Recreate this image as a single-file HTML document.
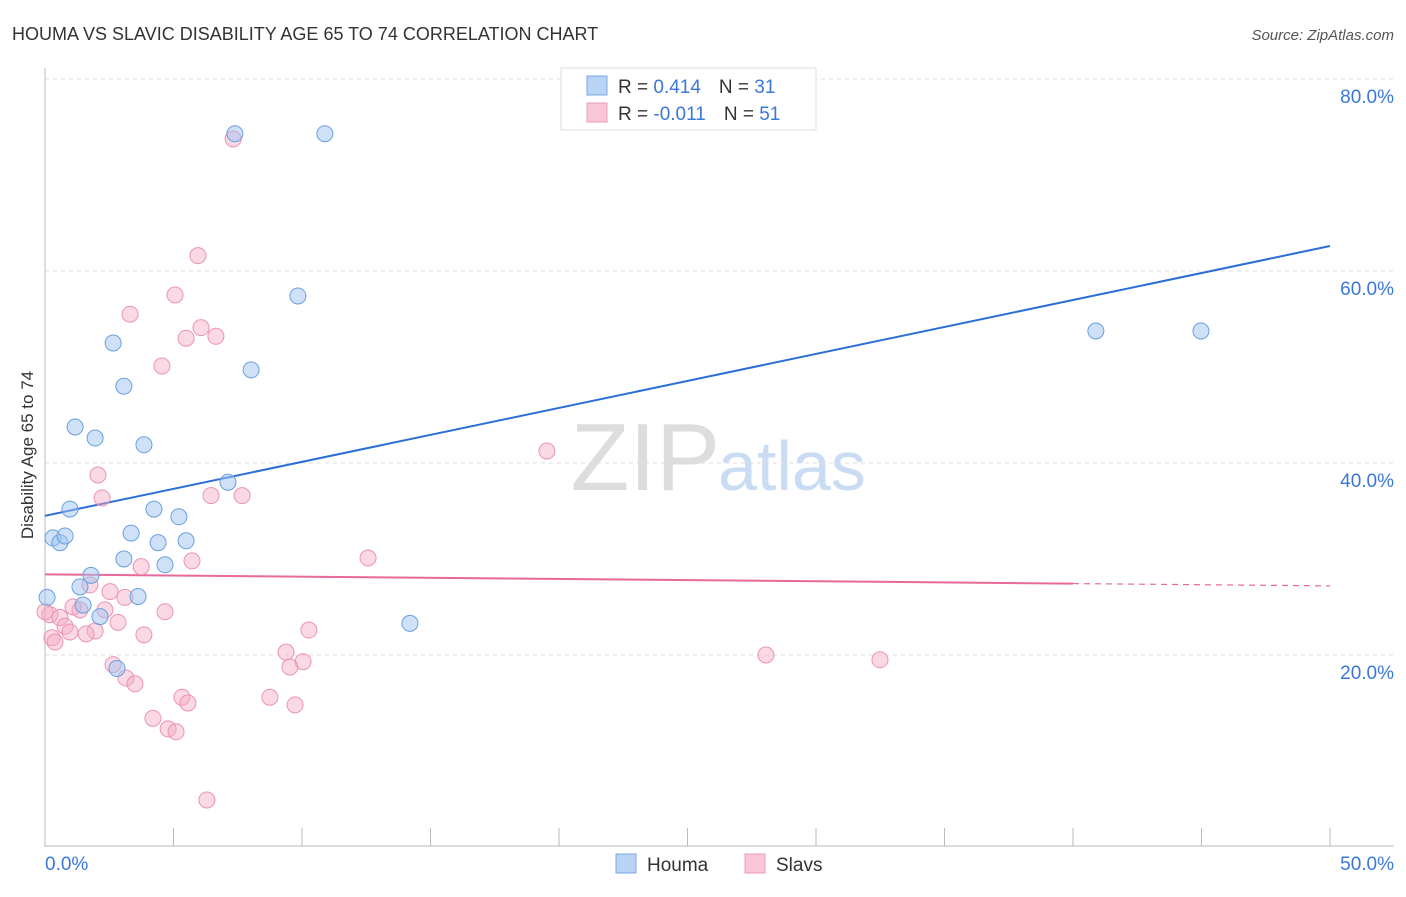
<!DOCTYPE html>
<html><head><meta charset="utf-8"><style>
body{margin:0;background:#fff;font-family:"Liberation Sans",sans-serif;}
svg text{font-family:"Liberation Sans",sans-serif;}
</style></head><body>
<svg id="chart" width="1406" height="892">
<text x="12" y="40" font-size="18" fill="#333">HOUMA VS SLAVIC DISABILITY AGE 65 TO 74 CORRELATION CHART</text>
<text x="1394" y="40" font-size="15" fill="#555" font-style="italic" text-anchor="end">Source: ZipAtlas.com</text>
<text x="720" y="490" font-size="96" fill="#ddd" text-anchor="end" font-family="Liberation Serif">ZIP</text>
<text x="718" y="490" font-size="70" fill="#c9dcf3">atlas</text>
<text transform="translate(33,455) rotate(-90)" font-size="17" fill="#333" text-anchor="middle">Disability Age 65 to 74</text>
<g id="grid"></g><g id="axes"></g><g id="lines"></g><g id="pts"></g>
<g>
<rect x="561" y="68" width="255" height="62" fill="#fff" stroke="#ddd"/>
<rect x="587" y="76" width="20" height="19" fill="#b8d3f5" stroke="#7aa8e2"/>
<rect x="587" y="103" width="20" height="19" fill="#f9c6d6" stroke="#ea9cb7"/>
<text x="618" y="93" font-size="19" fill="#333">R = <tspan fill="#3a78d8">0.414</tspan><tspan dx="18">N = </tspan><tspan fill="#3a78d8">31</tspan></text>
<text x="618" y="120" font-size="19" fill="#333">R = <tspan fill="#3a78d8">-0.011</tspan><tspan dx="18">N = </tspan><tspan fill="#3a78d8">51</tspan></text>
</g>
<g>
<rect x="616" y="854" width="20" height="19" fill="#b8d3f5" stroke="#7aa8e2"/>
<text x="647" y="871" font-size="19" fill="#333">Houma</text>
<rect x="745" y="854" width="20" height="19" fill="#f9c6d6" stroke="#ea9cb7"/>
<text x="776" y="871" font-size="19" fill="#333">Slavs</text>
</g>
</svg>
<script>
const xTicks=[0,50];
const yTicks=[20,40,60,80];
const houmaX=[0.08,0.31,0.58,0.78,0.97,1.17,1.36,1.48,1.79,1.95,2.14,2.65,2.80,3.07,3.07,3.35,3.62,3.85,4.24,4.40,4.67,5.21,5.49,7.12,7.39,8.02,9.84,10.89,14.2,40.89,44.98];
const houmaY=[26.0,32.2,31.7,32.4,35.2,43.75,27.1,25.2,28.3,42.6,24.0,52.5,18.6,48.0,30.0,32.7,26.1,41.9,35.2,31.7,29.4,34.4,31.9,38.0,74.3,49.7,57.4,74.3,23.3,53.75,53.75];
const slavsX=[7.32,5.95,5.06,3.31,6.07,5.49,6.65,4.55,19.53,2.06,2.22,6.46,7.67,12.57,3.74,5.72,2.53,3.11,1.75,1.36,1.09,2.33,4.67,0.19,0.58,0.78,2.84,1.95,0.97,1.60,3.85,0.27,0.39,10.27,9.38,10.04,9.53,2.65,3.15,3.50,5.33,5.56,8.75,9.73,4.20,4.79,5.10,6.30,28.05,32.49,0.0];
const slavsY=[73.75,61.6,57.5,55.5,54.1,53.0,53.2,50.1,41.25,38.75,36.35,36.6,36.6,30.1,29.2,29.8,26.6,26.0,27.3,24.7,25.0,24.7,24.5,24.2,23.9,23.0,23.4,22.5,22.4,22.2,22.1,21.8,21.35,22.6,20.3,19.3,18.75,19.0,17.6,17.0,15.6,15.0,15.6,14.8,13.4,12.3,12.0,4.9,20.0,19.5,24.5];
const houmaTrend=[34.5,62.6];
const slavsTrend=[28.4,27.2];
const slavsSolidEnd=40;
const NS="http://www.w3.org/2000/svg";
const X=v=>45+v*25.7, Y=v=>847-v*9.6;
function mk(tag,attrs,parent){const e=document.createElementNS(NS,tag);for(const k in attrs)e.setAttribute(k,attrs[k]);document.getElementById(parent).appendChild(e);return e;}
yTicks.forEach(t=>{
 const l=mk('line',{x1:45,x2:1394,y1:Y(t),y2:Y(t),stroke:'#ddd','stroke-dasharray':'4,4'},'grid');
 
 
 const tx=mk('text',{x:1394,y:Y(t)+24,'font-size':19,fill:'#3a78d8','text-anchor':'end'},'grid');
 tx.textContent=t.toFixed(1)+'%';
 
 
});
mk('line',{x1:45,x2:45,y1:68,y2:847,stroke:'#bbb'},'axes');
mk('line',{x1:45,x2:1394,y1:846,y2:846,stroke:'#bbb'},'axes');
for(let i=0;i<=10;i++){mk('line',{x1:X(i*5),x2:X(i*5),y1:828,y2:846,stroke:'#bbb'},'axes');}
xTicks.forEach((t,i)=>{
 const tx=mk('text',{x:i==0?45:1394,y:870,'font-size':19,fill:'#3a78d8','text-anchor':i==0?'start':'end'},'axes');
 tx.textContent=t.toFixed(1)+'%';
 
 
});
const hl=mk('line',{x1:X(0),y1:Y(houmaTrend[0]),x2:X(50),y2:Y(houmaTrend[1]),stroke:'#2a6fd6','stroke-width':2},'lines');


const sAt=x=>slavsTrend[0]+(slavsTrend[1]-slavsTrend[0])*x/50;
const sl=mk('line',{x1:X(0),y1:Y(sAt(0)),x2:X(slavsSolidEnd),y2:Y(sAt(slavsSolidEnd)),stroke:'#e8699a','stroke-width':2},'lines');


const sd=mk('line',{x1:X(slavsSolidEnd),y1:Y(sAt(slavsSolidEnd)),x2:X(50),y2:Y(sAt(50)),stroke:'#e8699a','stroke-width':1.2,'stroke-dasharray':'6,5'},'lines');


slavsX.forEach((x,i)=>{
 const c=mk('circle',{cx:X(x),cy:Y(slavsY[i]),r:8,fill:'rgba(245,170,195,0.45)',stroke:'#eb93b2','stroke-width':1},'pts');
 
 
});
houmaX.forEach((x,i)=>{
 const c=mk('circle',{cx:X(x),cy:Y(houmaY[i]),r:8,fill:'rgba(160,195,240,0.5)',stroke:'#6a9fe0','stroke-width':1},'pts');
 
 
});
</script>
</body></html>
